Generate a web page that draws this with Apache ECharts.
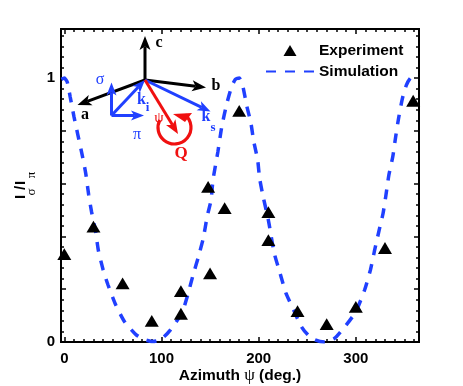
<!DOCTYPE html>
<html lang="en">

<head>
    <meta charset="UTF-8">
    <title>Azimuth scan</title>
    <script src="https://cdn.jsdelivr.net/npm/echarts@6/dist/echarts.min.js"></script>
    <style>
        html, body { margin: 0; padding: 0; background: #fff; }
    </style>
</head>

<body>
    <div id="main" style="width: 463px;height:386px;"></div>
    <script type="text/javascript">
        // measured points, two values at 120 and 210
        const expAzimuth = [0, 30, 60, 90, 120, 120, 148, 150, 165, 180, 210, 210, 240, 270, 300, 330, 359]
        const expRatio = [0.333, 0.437, 0.222, 0.08, 0.193, 0.107, 0.588, 0.26, 0.507, 0.876, 0.492, 0.386, 0.117, 0.068, 0.133, 0.356, 0.914]

        // simulation curve
        const simAzimuth = [-3, 0, 3, 6, 10, 14, 18, 22, 25, 28, 32, 35, 40, 45, 53, 62, 74, 82, 90, 95, 102, 109, 121, 127, 132, 138, 143, 147, 151, 153, 158, 162, 167, 172, 176, 180, 183, 188, 192, 195, 199, 201, 205, 210, 216, 222, 228, 236, 244, 251, 258, 268, 278, 290, 300, 309, 315, 319, 324, 328, 331, 334, 338, 341, 344, 348, 352, 356, 358]
        const simRatio = [0.995, 1, 0.985, 0.93, 0.853, 0.784, 0.716, 0.64, 0.56, 0.494, 0.424, 0.348, 0.273, 0.216, 0.14, 0.077, 0.027, 0.01, 0.002, 0.004, 0.018, 0.045, 0.11, 0.178, 0.247, 0.323, 0.393, 0.475, 0.538, 0.614, 0.72, 0.815, 0.9, 0.965, 0.995, 1, 0.98, 0.891, 0.83, 0.759, 0.689, 0.62, 0.544, 0.462, 0.337, 0.261, 0.186, 0.121, 0.058, 0.026, 0.008, 0, 0.014, 0.064, 0.115, 0.197, 0.273, 0.342, 0.424, 0.487, 0.557, 0.633, 0.702, 0.778, 0.848, 0.924, 0.973, 0.999, 1]

        const xLabels = [0, 100, 200, 300]
        const xMinorTicks = [0, 10, 20, 30, 40, 50, 60, 70, 80, 90, 110, 120, 130, 140, 150, 160, 170, 180, 190, 210, 220, 230, 240, 250, 260, 270, 280, 290, 310, 320, 330, 340, 350, 360]
        const yLabels = [0, 1]
        const yMajorTicks = [0, 0.2, 0.4, 0.6, 0.8, 1]
        const yMinorTicks = [0.04, 0.08, 0.12, 0.16, 0.24, 0.28, 0.32, 0.36, 0.44, 0.48, 0.52, 0.56, 0.64, 0.68, 0.72, 0.76, 0.84, 0.88, 0.92, 0.96, 1.04, 1.08, 1.12, 1.16]

        const BLUE = '#2040ff'
        const RED = '#f01010'
        const BLACK = '#000'
        const SANS = '"Liberation Sans", Arial, sans-serif'
        const SERIF = '"Liberation Serif", "Times New Roman", serif'

        const xRange = { min: -3.4, max: 365 }
        const yRange = { min: 0, max: 1.186 }

        // every side of the box is its own axis so ticks can sit on custom values
        function makeAxis(range, position, ticks, tickLen, labels) {
            return {
                type: 'value',
                position: position,
                min: range.min,
                max: range.max,
                splitLine: { show: false },
                axisLine: { show: true, onZero: false, lineStyle: { color: BLACK, width: 2 } },
                axisTick: { show: true, inside: true, length: tickLen, customValues: ticks, lineStyle: { color: BLACK, width: 1.5 } },
                axisLabel: labels
                    ? { show: true, customValues: labels, color: BLACK, fontFamily: SANS, fontWeight: 'bold', fontSize: 15, margin: position === 'bottom' ? 9 : 6, showMinLabel: true, showMaxLabel: true }
                    : { show: false }
            }
        }

        const xAxes = [
            makeAxis(xRange, 'bottom', xLabels, 5, xLabels),
            makeAxis(xRange, 'bottom', xMinorTicks, 3),
            makeAxis(xRange, 'top', xLabels, 5),
            makeAxis(xRange, 'top', xMinorTicks, 3)
        ]
        xAxes[0].name = 'Azimuth {p|ψ} (deg.)'
        xAxes[0].nameLocation = 'middle'
        xAxes[0].nameGap = 25
        xAxes[0].nameMoveOverlap = false
        xAxes[0].nameTextStyle = {
            color: BLACK, fontFamily: SANS, fontWeight: 'bold', fontSize: 15.5,
            rich: { p: { fontFamily: SERIF, fontWeight: 'normal', fontSize: 17, color: BLACK } }
        }

        const yAxes = [
            makeAxis(yRange, 'left', yMajorTicks, 5, yLabels),
            makeAxis(yRange, 'left', yMinorTicks, 3),
            makeAxis(yRange, 'right', yMajorTicks, 5),
            makeAxis(yRange, 'right', yMinorTicks, 3)
        ]

        // little helper for the inset diagram arrows
        function arrow(x1, y1, x2, y2, color, width, headLen, headWid) {
            const a = Math.atan2(y2 - y1, x2 - x1)
            const cos = Math.cos(a), sin = Math.sin(a)
            const pt = (along, side) => [x2 - along * cos - side * sin, y2 - along * sin + side * cos]
            const neck = pt(headLen * 0.75, 0)
            return [
                { type: 'line', z: 20, shape: { x1: x1, y1: y1, x2: neck[0], y2: neck[1] }, style: { stroke: color, lineWidth: width } },
                { type: 'polygon', z: 20, shape: { points: [[x2, y2], pt(headLen, headWid / 2), neck, pt(headLen, -headWid / 2)] }, style: { fill: color } }
            ]
        }

        function label(text, x, y, color, font, size, weight, rotation) {
            return {
                type: 'text', z: 21, x: x, y: y, rotation: rotation || 0,
                style: { text: text, fill: color, font: (weight || 'normal') + ' ' + size + 'px ' + font, align: 'center', verticalAlign: 'middle' }
            }
        }

        const insetGraphics = [
            ...arrow(145, 80, 145, 36, BLACK, 3, 14, 11),
            ...arrow(145, 80, 206, 87.5, BLACK, 3, 14, 11),
            ...arrow(145, 80, 77.5, 105, BLACK, 3, 14, 11),
            ...arrow(111.5, 115.5, 145, 80, BLUE, 3, 13, 10),
            ...arrow(111.5, 115.5, 111.5, 82.5, BLUE, 3, 13, 10),
            ...arrow(111.5, 115.5, 144, 115.5, BLUE, 3, 13, 10),
            ...arrow(145, 80, 210.5, 111.5, BLUE, 3, 13, 10),
            ...arrow(145, 80, 178, 134, RED, 3, 14, 11),
            {
                type: 'arc', z: 20,
                shape: { cx: 174.5, cy: 127.5, r: 16.5, startAngle: -Math.PI * 0.28, endAngle: Math.PI * 1.15, clockwise: true },
                style: { stroke: RED, lineWidth: 3.2, fill: 'none' }
            },
            { type: 'polygon', z: 20, shape: { points: [[173, 114], [192, 113], [185, 122]] }, style: { fill: RED } },
            label('c', 159, 43, BLACK, SERIF, 16, 'bold'),
            label('b', 216, 86, BLACK, SERIF, 16, 'bold'),
            label('a', 85, 115, BLACK, SERIF, 16, 'bold'),
            label('σ', 100, 80, BLUE, SERIF, 16),
            label('π', 137, 135, BLUE, SERIF, 16),
            label('k', 141.5, 100, BLUE, SERIF, 16, 'bold'),
            label('i', 147.5, 108, BLUE, SERIF, 13, 'bold'),
            label('k', 206, 117, BLUE, SERIF, 16, 'bold'),
            label('s', 213, 128, BLUE, SERIF, 13, 'bold'),
            label('ψ', 159, 118, RED, SERIF, 15),
            label('Q', 181, 154, RED, SERIF, 17, 'bold')
        ]

        // y axis title, pieces placed by hand because of the subscripts
        const yTitleGraphics = [
            label('I', 21, 197, BLACK, SANS, 15, 'bold', Math.PI / 2),
            label('/', 21, 188, BLACK, SANS, 15, 'bold', Math.PI / 2),
            label('I', 21, 183, BLACK, SANS, 15, 'bold', Math.PI / 2),
            label('σ', 32, 192, BLACK, SERIF, 13, 'normal', Math.PI / 2),
            label('π', 32, 175, BLACK, SERIF, 13, 'normal', Math.PI / 2)
        ]

        let options = {
            animation: false,
            backgroundColor: '#fff',
            grid: { left: 61, right: 44, top: 29, bottom: 44, outerBoundsMode: 'none' },
            xAxis: xAxes,
            yAxis: yAxes,
            legend: {
                left: 265,
                top: 41,
                orient: 'vertical',
                padding: 0,
                itemWidth: 48,
                itemHeight: 11,
                itemGap: 2,
                selectedMode: false,
                textStyle: { color: BLACK, fontFamily: SANS, fontWeight: 'bold', fontSize: 15.5, padding: [0, 0, 0, 0], lineHeight: 19, verticalAlign: 'top' },
                // the line icon always adds a dot, hide it
                data: ['Experiment', { name: 'Simulation', itemStyle: { opacity: 0 } }]
            },
            series: [
                {
                    name: 'Simulation',
                    type: 'line',
                    symbol: 'none',
                    smooth: 0.2,
                    xAxisIndex: 0,
                    yAxisIndex: 0,
                    itemStyle: { color: BLUE },
                    lineStyle: { color: BLUE, width: 3.5, type: [10, 9] },
                    data: simAzimuth.map((x, i) => [x, simRatio[i]]),
                    z: 2
                },
                {
                    name: 'Experiment',
                    type: 'scatter',
                    symbol: 'path://M0,11L6.5,0L13,11Z',
                    symbolKeepAspect: true,
                    symbolSize: 14,
                    xAxisIndex: 0,
                    yAxisIndex: 0,
                    itemStyle: { color: BLACK, opacity: 1 },
                    data: expAzimuth.map((x, i) => [x, expRatio[i]]),
                    z: 3
                }
            ],
            graphic: { elements: [...insetGraphics, ...yTitleGraphics] }
        }

        let myChart = echarts.init(document.getElementById('main'), null, { renderer: 'canvas' })
        myChart.setOption(options)
    </script>
</body>

</html>
